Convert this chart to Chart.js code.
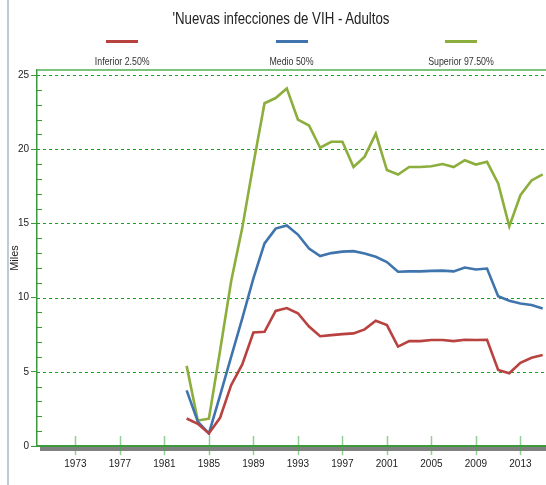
<!DOCTYPE html>
<html lang="es">
<head>
<meta charset="UTF-8">
<title>Nuevas infecciones de VIH - Adultos</title>
<script src="https://cdn.jsdelivr.net/npm/chart.js"></script>
<style>
  html, body { margin: 0; padding: 0; background: #fff; }
  body { font-family: 'Liberation Sans', Arial, sans-serif; }
  #wrap { position: relative; width: 546px; height: 485px; overflow: hidden; }
  #frame-line { position: absolute; left: 7px; top: 0; width: 2px; height: 485px; background: #c4cad4; }
  #title { position: absolute; left: 0; width: 562px; top: 9px; text-align: center; font-size: 17px; color: #222;
           transform: scaleX(0.78); transform-origin: 281px 0; }
  #legend { position: absolute; left: 37px; width: 509px; top: 36px; display: flex; }
  .item { flex: 1; text-align: center; font-size: 11px; color: #333; }
  .item span { display: inline-block; transform: scaleX(0.8); }
  .swatch { width: 32px; height: 3px; margin: 4px auto 12px auto; }
  canvas { position: absolute; left: 0; top: 0; }
</style>
</head>
<body>
<div id="wrap">
  <canvas id="chart" width="546" height="485"></canvas>
  <div id="frame-line"></div>
  <div id="title">'Nuevas infecciones de VIH - Adultos</div>
  <div id="legend"></div>
</div>
<script>
// data (miles)
const years = [1983, 1984, 1985, 1986, 1987, 1988, 1989, 1990, 1991, 1992, 1993, 1994, 1995, 1996, 1997, 1998, 1999,
  2000, 2001, 2002, 2003, 2004, 2005, 2006, 2007, 2008, 2009, 2010, 2011, 2012, 2013, 2014, 2015];
const inferior = [1.85, 1.5, 0.85, 1.9, 4.1, 5.5, 7.65, 7.7, 9.1, 9.3, 8.95, 8.05, 7.4, 7.47, 7.54, 7.59, 7.86,
  8.44, 8.15, 6.7, 7.07, 7.07, 7.14, 7.14, 7.07, 7.16, 7.14, 7.16, 5.12, 4.9, 5.6, 5.95, 6.13];
const medio = [3.75, 1.64, 0.85, 3.4, 6.0, 8.6, 11.3, 13.65, 14.65, 14.86, 14.25, 13.3, 12.8, 13.0, 13.1, 13.13, 12.98,
  12.75, 12.4, 11.74, 11.77, 11.77, 11.8, 11.82, 11.77, 12.03, 11.9, 11.96, 10.1, 9.79, 9.6, 9.5, 9.27];
const superior = [5.4, 1.71, 1.84, 6.4, 11.1, 14.7, 19.0, 23.1, 23.45, 24.1, 22.0, 21.6, 20.1, 20.5, 20.5, 18.8, 19.5,
  21.05, 18.6, 18.3, 18.8, 18.8, 18.85, 19.0, 18.8, 19.26, 18.97, 19.15, 17.7, 14.8, 16.9, 17.9, 18.3];
const seriesNames = ['Inferior 2.50%', 'Medio 50%', 'Superior 97.50%'];
const seriesColors = ['#b8423f', '#3f74ad', '#8cae3d'];
const xTicks = [1973, 1977, 1981, 1985, 1989, 1993, 1997, 2001, 2005, 2009, 2013];
const yTicks = [0, 5, 10, 15, 20, 25];

// html legend
const legend = document.getElementById('legend');
seriesNames.forEach((name, i) => {
  const el = document.createElement('div');
  el.className = 'item';
  el.innerHTML = `<div class="swatch" style="background:${seriesColors[i]}"></div><span>${name}</span>`;
  legend.appendChild(el);
});

const gridGreen = '#1f9f1f';
const axisGreen = '#3c9a3c';
const tickFont = { family: "'Liberation Sans', sans-serif", size: 10 };

// grid + axis decoration drawn behind/over the data
const axisDecor = {
  id: 'axisDecor',
  beforeDatasetsDraw(chart) {
    const { ctx, chartArea: a, scales: { y } } = chart;
    ctx.save();
    ctx.strokeStyle = gridGreen;
    ctx.lineWidth = 1;
    ctx.setLineDash([3, 3]);
    yTicks.forEach(v => {
      if (v === 0) return;
      const py = Math.round(y.getPixelForValue(v)) + 0.5;
      ctx.beginPath();
      ctx.moveTo(a.left, py);
      ctx.lineTo(a.right, py);
      ctx.stroke();
    });
    ctx.restore();
  },
  afterDraw(chart) {
    const { ctx, chartArea: a, scales: { x, y } } = chart;
    ctx.save();
    // grey band under the x axis
    ctx.fillStyle = '#808080';
    ctx.fillRect(a.left + 3, a.bottom + 1, a.right - a.left, 4);
    // x axis line
    ctx.strokeStyle = axisGreen;
    ctx.lineWidth = 2;
    ctx.beginPath();
    ctx.moveTo(a.left, a.bottom);
    ctx.lineTo(a.right, a.bottom);
    ctx.stroke();
    // top border
    ctx.strokeStyle = '#7cc47c';
    ctx.beginPath();
    ctx.moveTo(a.left, a.top);
    ctx.lineTo(a.right, a.top);
    ctx.stroke();
    // x tick marks
    ctx.strokeStyle = 'rgba(60,170,60,0.55)';
    ctx.lineWidth = 1.5;
    xTicks.forEach(v => {
      const px = Math.round(x.getPixelForValue(v)) + 0.5;
      ctx.beginPath();
      ctx.moveTo(px, a.bottom - 10);
      ctx.lineTo(px, a.bottom + 9);
      ctx.stroke();
    });
    // y minor ticks
    ctx.strokeStyle = axisGreen;
    ctx.lineWidth = 1;
    for (let v = 1; v <= 24; v++) {
      if (v % 5 === 0) continue;
      const py = Math.round(y.getPixelForValue(v)) + 0.5;
      ctx.beginPath();
      ctx.moveTo(a.left, py);
      ctx.lineTo(a.left + 5, py);
      ctx.stroke();
    }
    ctx.restore();
  }
};

new Chart(document.getElementById('chart'), {
  type: 'line',
  data: {
    labels: years,
    datasets: [inferior, medio, superior].map((vals, i) => ({
      label: seriesNames[i],
      data: vals.map((v, k) => ({ x: years[k], y: v })),
      borderColor: seriesColors[i],
      backgroundColor: seriesColors[i],
      borderWidth: 2.6,
      pointRadius: 0,
      tension: 0,
      fill: false
    }))
  },
  options: {
    responsive: false,
    animation: false,
    layout: { padding: { top: 70, right: 0, left: 0, bottom: 0 } },
    plugins: {
      legend: { display: false },
      title: { display: false },
      tooltip: { enabled: false }
    },
    scales: {
      x: {
        type: 'linear',
        min: 1969.55,
        max: 2015.3,
        afterBuildTicks: s => { s.ticks = xTicks.map(v => ({ value: v })); },
        afterFit: s => { s.height = 39; },
        grid: { display: false, drawTicks: false },
        border: { display: false },
        ticks: {
          padding: 12,
          maxRotation: 0,
          autoSkip: false,
          color: '#222',
          font: tickFont,
          callback: v => String(v)
        }
      },
      y: {
        min: 0,
        max: 25.34,
        afterBuildTicks: s => { s.ticks = yTicks.map(v => ({ value: v })); },
        afterFit: s => { s.width = 37; },
        title: {
          display: true,
          text: 'Miles',
          color: '#222',
          padding: { top: 8, bottom: 0 },
          font: { family: "'Liberation Sans', sans-serif", size: 11 }
        },
        grid: {
          drawOnChartArea: false,
          tickColor: axisGreen,
          tickLength: 6,
          lineWidth: 1
        },
        border: { display: true, color: axisGreen, width: 1.5 },
        ticks: {
          padding: 2,
          color: '#222',
          font: tickFont
        }
      }
    }
  },
  plugins: [axisDecor]
});
</script>
</body>
</html>
